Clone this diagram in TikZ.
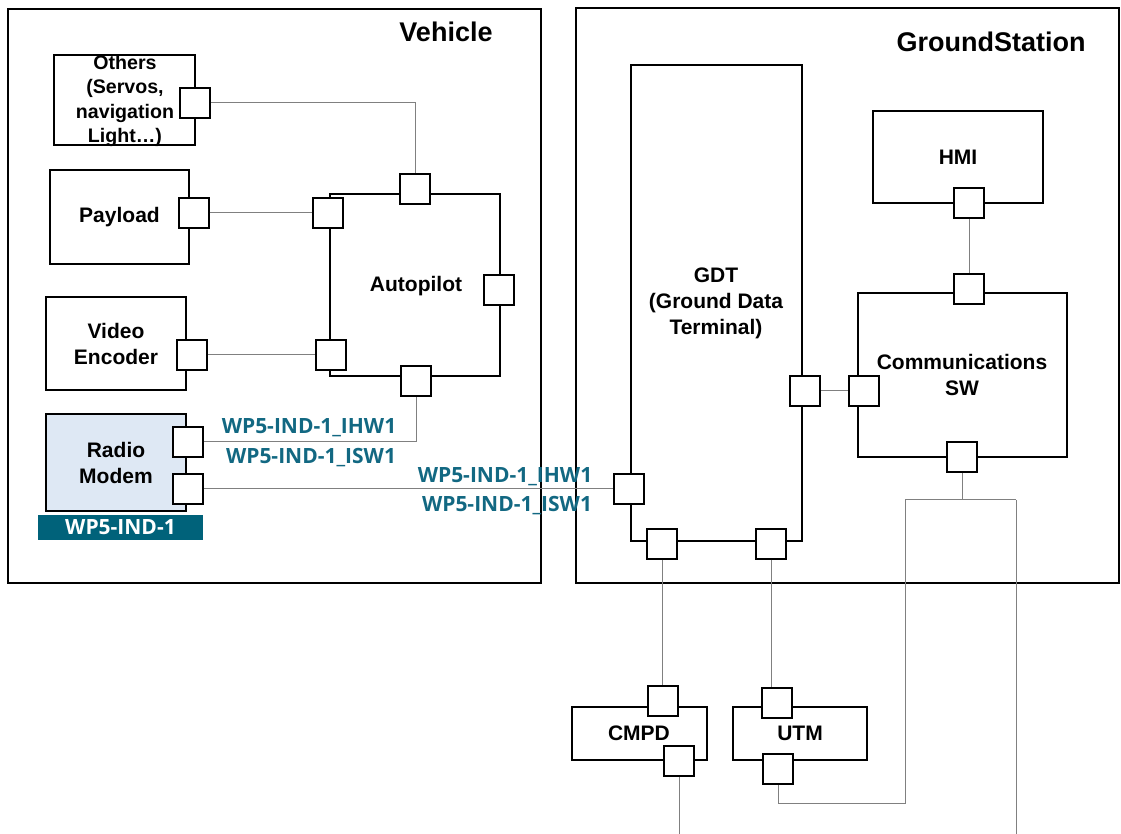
\documentclass[tikz,border=0pt]{standalone}
\usepackage{fontspec}
\setmainfont{Liberation Sans}
\newfontfamily\labfont{Open Sans}
\definecolor{tealtxt}{RGB}{18,104,130}
\definecolor{tealbg}{RGB}{0,98,122}
\definecolor{radiobg}{RGB}{222,232,244}
\definecolor{conngray}{RGB}{128,128,128}
\begin{document}
\begin{tikzpicture}[x=0.5pt,y=-0.5pt,
  frame/.style={draw=black,line width=1pt},
  box/.style={draw=black,line width=1pt,fill=white,inner sep=0pt,align=center,font=\fontsize{10.5}{13}\selectfont\bfseries},
  port/.style={draw=black,line width=0.9pt,fill=white,minimum size=15pt,inner sep=0pt},
  conn/.style={draw=conngray,line width=0.5pt},
  title/.style={font=\fontsize{13.5}{16}\selectfont\bfseries,inner sep=0pt},
  iflabel/.style={text=tealtxt,font=\labfont\fontsize{10.5}{12}\selectfont\bfseries,inner sep=0pt}]
\useasboundingbox (0,0) rectangle (1121,834);
% frames
\draw[frame] (8,9) rectangle (541,583);
\draw[frame] (576,8) rectangle (1119,583);
\node[title] (vehT) at (446,32) {Vehicle};
\node[title] (gsT) at (991,42) {GroundStation};
% vehicle boxes
\node[box,minimum width=70.5pt,minimum height=45pt] (others) at (124.5,100) {};
\node[align=center,inner sep=0pt,font=\fontsize{9.8}{12.1}\selectfont\bfseries] (othersTxt) at (125,101) {Others\\(Servos,\\navigation\\Light\ldots)};
\node[box,minimum width=69.5pt,minimum height=47pt] (payload) at (119.5,217) {Payload};
\node[box,minimum width=70pt,minimum height=46.5pt] (video) at (116,343.5) {Video\\Encoder};
\node[box,minimum width=70pt,minimum height=48.5pt,fill=radiobg] (radio) at (116,462.5) {Radio\\Modem};
\node[draw=none,fill=tealbg,minimum width=82.5pt,minimum height=12.5pt,inner sep=0pt,text=white,font=\labfont\fontsize{10.5}{12}\selectfont\bfseries] (banner) at (120.5,527.5) {WP5-IND-1};
\node[box,minimum width=85pt,minimum height=91pt,fill=none] (autopilot) at (415,285) {};
\node[inner sep=0pt,font=\fontsize{10.5}{13}\selectfont\bfseries] (apTxt) at (416,286) {Autopilot};
% ground station boxes
\node[box,minimum width=85.5pt,minimum height=238pt,fill=none] (gdt) at (716,303) {GDT\\(Ground Data\\Terminal)};
\node[box,minimum width=85pt,minimum height=46pt] (hmi) at (958,157) {HMI};
\node[box,minimum width=104.5pt,minimum height=82pt,fill=none] (comm) at (962,375) {Communications\\SW};
\node[box,minimum width=67.5pt,minimum height=26.5pt] (cmpd) at (639,733.5) {CMPD};
\node[box,minimum width=67pt,minimum height=26.5pt] (utm) at (800,733.5) {UTM};
% ports
\node[port] (othersP) at (195,103) {};
\node[port] (payP) at (194,213) {};
\node[port] (vidP) at (192,355) {};
\node[port] (radP1) at (188,442) {};
\node[port] (radP2) at (188,489) {};
\node[port] (apT) at (415,189) {};
\node[port] (apL1) at (328,213) {};
\node[port] (apR) at (499,290) {};
\node[port] (apL2) at (331,355) {};
\node[port] (apB) at (416,381) {};
\node[port] (gdtL) at (629,489) {};
\node[port] (gdtR) at (805,391) {};
\node[port] (gdtB1) at (662,544) {};
\node[port] (gdtB2) at (771,544) {};
\node[port] (hmiP) at (969,203) {};
\node[port] (commT) at (969,289) {};
\node[port] (commL) at (864,391) {};
\node[port] (commB) at (962,457) {};
\node[port] (cmpdT) at (663,701) {};
\node[port] (cmpdB) at (679,761) {};
\node[port] (utmT) at (777,703) {};
\node[port] (utmB) at (778,769) {};
% free ends
\coordinate (jc) at (962,500);
\coordinate (jl) at (905,500);
\coordinate (jr) at (1016,500);
\coordinate (jlb) at (905,803);
\coordinate (rEnd) at (1016,834);
\coordinate (cEnd) at (679,834);
% connectors
\draw[conn] (othersP.east) -| (apT.north);
\draw[conn] (payP.east) -- (apL1.west);
\draw[conn] (vidP.east) -- (apL2.west);
\draw[conn] (radP1.east) -| (apB.south);
\draw[conn] (radP2.east) -- (gdtL.west);
\draw[conn] (gdtR.east) -- (commL.west);
\draw[conn] (hmiP.south) -- (commT.north);
\draw[conn] (commB.south) -- (jc);
\draw[conn] (jl) -- (jr);
\draw[conn] (jr) -- (rEnd);
\draw[conn] (jl) -- (jlb) -| (utmB.south);
\draw[conn] (gdtB1.south) -- (gdtB1.south |- cmpdT.north);
\draw[conn] (gdtB2.south) -- (gdtB2.south |- utmT.north);
\draw[conn] (cmpdB.south) -- (cEnd);
% interface labels
\node[iflabel] (l1) at (309,428) {WP5-IND-1\_IHW1};
\node[iflabel] (l2) at (311,458) {WP5-IND-1\_ISW1};
\node[iflabel] (l3) at (505,477) {WP5-IND-1\_IHW1};
\node[iflabel] (l4) at (507,506) {WP5-IND-1\_ISW1};
\end{tikzpicture}
\end{document}
